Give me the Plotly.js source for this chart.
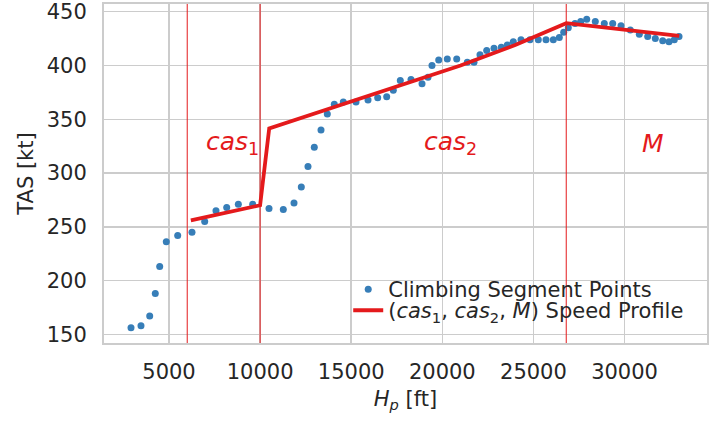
<!DOCTYPE html>
<html>
<head>
<meta charset="utf-8">
<script src="https://cdn.plot.ly/plotly-3.0.1.min.js"></script>
<style>html,body{margin:0;padding:0;background:#fff;}#chart{width:720px;height:422px;}</style>
</head>
<body>
<div id="chart"></div>
<script>
// Climbing segment points (pressure altitude [ft], TAS [kt])
const pointAlt = [2915,3463,3941,4248,4490,4852,5477,6262,6959,7579,8167,8805,9593,10488,11273,11860,12261,12628,12974,13342,13688,14072,14566,15263,15921,16453,16947,17310,17694,18281,18885,19214,19433,19801,20273,20789,21371,21738,22067,22435,22836,23237,23566,23895,24318,24812,25267,25690,26091,26420,26661,26914,27281,27594,27923,28395,28889,29350,29806,30316,30810,31271,31688,32094,32440,32731,32989];
const pointTas = [156,158,167,188,213,236,242,245,255,265,268,271,271,267,266,272,287,306,324,340,355,364,366,366,368,370,371,377,386,387,383,389,400,405,406,406,403,403,410,414,416,417,419,422,424,424,424,424,424,426,431,435,439,441,443,441,439,439,437,433,429,427,425,423,422,424,427];

// (cas1, cas2, M) speed profile
const profileAlt = [6200,10000,10500,14500,18000,21000,24000,26800,33000];
const profileTas = [256,270,341.5,363.5,383,400,419,439.4,427.6];

// Phase boundaries [ft]
const boundaries = [6000,10000,26800];

// Phase labels
const phaseLabels = ['<i>cas</i><sub>1</sub>','<i>cas</i><sub>2</sub>','<i>M</i>'];
const phaseLabelAlt = [8500,20450,31560];
const phaseLabelTas = [327.5,327.5,327.5];

const xTicks = [5000,10000,15000,20000,25000,30000];
const yTicks = [150,200,250,300,350,400,450];

const red = '#e41a1c';
const blue = '#377eb8';
const grid = '#cccccc';
const txt = '#262626';
const FONT = 'DejaVu Sans, sans-serif';
const FS = 21;

const traces = [
  {x: pointAlt, y: pointTas, type: 'scatter', mode: 'markers',
   name: 'Climbing Segment Points', legend: 'legend',
   marker: {color: blue, size: 7, line: {width: 0}}},
  {x: profileAlt, y: profileTas, type: 'scatter', mode: 'lines',
   name: '(<i>cas</i><sub>1</sub>, <i>cas</i><sub>2</sub>, <i>M</i>) Speed Profile', legend: 'legend2',
   line: {color: red, width: 3.8}}
];

const shapes = boundaries.map(b => ({
  type: 'line', xref: 'x', yref: 'paper', x0: b, x1: b, y0: 0, y1: 1,
  line: {color: red, width: 1}, layer: 'above'
}));

const annotations = phaseLabels.map((t, i) => ({
  x: phaseLabelAlt[i], y: phaseLabelTas[i], xref: 'x', yref: 'y',
  text: t, showarrow: false, font: {family: FONT, size: 25, color: red}
}));

const legendBase = {xanchor: 'left', yanchor: 'top', bgcolor: 'rgba(0,0,0,0)',
                    font: {family: FONT, size: FS, color: txt}, tracegroupgap: 0};

const layout = {
  width: 720, height: 422,
  margin: {l: 104, r: 13, t: 4, b: 79},
  paper_bgcolor: '#fff', plot_bgcolor: '#fff',
  font: {family: FONT, color: txt, size: FS},
  showlegend: true,
  legend: Object.assign({x: 0.405, y: 0.218}, legendBase),
  legend2: Object.assign({x: 0.405, y: 0.156}, legendBase),
  xaxis: {range: [1433, 34525], tickvals: xTicks, ticktext: xTicks.map(String),
          showgrid: true, gridcolor: grid, gridwidth: 1.5, zeroline: false,
          showline: true, linecolor: grid, linewidth: 2, mirror: true,
          ticks: '', ticklabelstandoff: 9,
          tickfont: {family: FONT, size: FS, color: txt},
          title: {text: '<i>H</i><sub><i>p</i></sub> [ft]', font: {family: FONT, size: FS, color: txt}, standoff: 8}},
  yaxis: {range: [141.9, 457.2], tickvals: yTicks, ticktext: yTicks.map(String),
          showgrid: true, gridcolor: grid, gridwidth: 1.5, zeroline: false,
          showline: true, linecolor: grid, linewidth: 2, mirror: true,
          ticks: '', ticklabelstandoff: 11,
          tickfont: {family: FONT, size: FS, color: txt},
          title: {text: 'TAS [kt]', font: {family: FONT, size: FS, color: txt}, standoff: 7}},
  shapes: shapes,
  annotations: annotations
};

Plotly.newPlot('chart', traces, layout, {displayModeBar: false, staticPlot: true});
</script>
</body>
</html>
